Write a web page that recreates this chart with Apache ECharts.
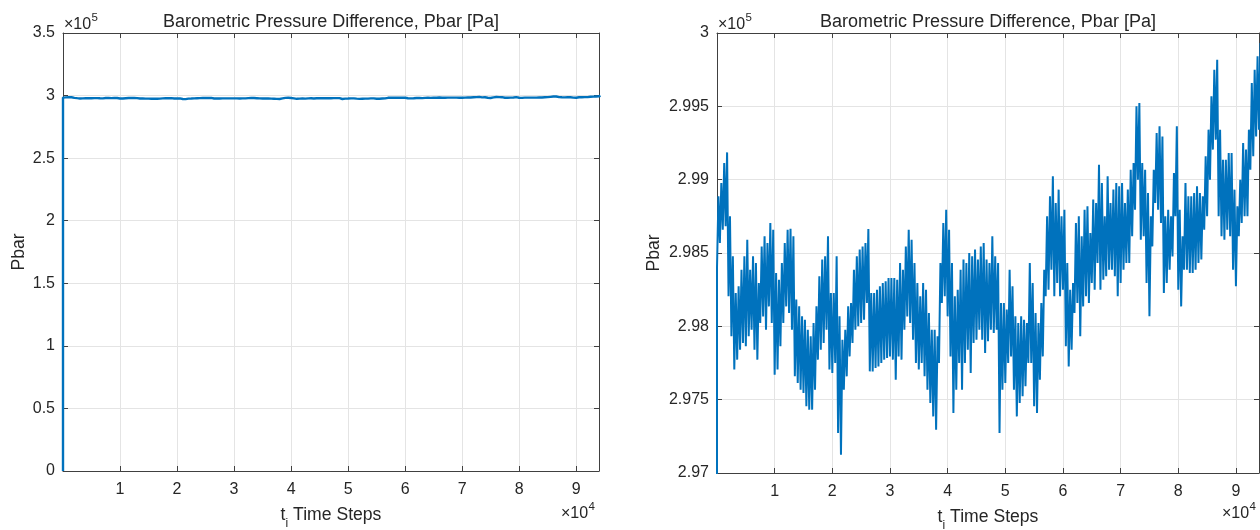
<!DOCTYPE html>
<html>
<head>
<meta charset="utf-8">
<title>Barometric Pressure Difference</title>
<script src="https://cdn.jsdelivr.net/npm/echarts@6/dist/echarts.min.js"></script>
<style>
  html, body { margin: 0; padding: 0; background: #ffffff; }
  #chart { width: 1260px; height: 530px; }
</style>
</head>
<body>
<div id="chart"></div>
<script>
// Pbar record: value at t = 0, then the upper and lower excursion of the
// signal in every block of sampleStep time steps (Pa).
const sampleStep = 500;
const startValue = 0;
const pbarHigh = [
  298886, 298977, 299114, 299186, 298750, 298477, 298227, 298273, 298386, 298477,
  298591, 298386, 298477, 298432, 298295, 298545, 298614, 298568, 298705, 298659,
  298364, 298318, 298432, 298568, 298659, 298666, 298614, 298182, 298136, 298068,
  298045, 297977, 297932, 298023, 298136, 298341, 298455, 298477, 298614, 298227,
  298227, 298477, 298068, 297909, 297977, 298136, 298159, 298386, 298477, 298523,
  298545, 298568, 298664, 298227, 298227, 298250, 298273, 298295, 298307, 298330,
  298330, 298330, 298318, 298432, 298386, 298545, 298659, 298591, 298432, 298295,
  298205, 298295, 298250, 298091, 297977, 297977, 297932, 298432, 298705, 298795,
  298659, 298432, 298205, 298250, 298386, 298455, 298432, 298500, 298477, 298523,
  298455, 298545, 298568, 298455, 298432, 298614, 298477, 298432, 298159, 298159,
  298114, 298386, 298273, 298068, 298023, 298068, 298045, 298023, 298432, 298295,
  298091, 298023, 298159, 298386, 298750, 298886, 299023, 298841, 298932, 298750,
  298795, 298432, 298250, 298295, 298705, 298750, 298614, 298795, 298818, 298636,
  298864, 298841, 299102, 298977, 298750, 299023, 298841, 298932, 298977, 298955,
  298977, 298841, 298932, 299068, 299114, 299500, 299523, 299114, 299068, 298909,
  298750, 299068, 299318, 299364, 299295, 298750, 298795, 298750, 299045, 299364,
  298795, 298614, 298977, 298886, 298886, 298909, 298955, 298909, 298886, 299159,
  299341, 299568, 299750, 299818, 299341, 299136, 299136, 299182, 299182, 298932,
  298818, 299000, 299250, 299205, 299341, 299659, 299750, 299841, 299932
];
const pbarLow = [
  298398, 298568, 298659, 298682, 298205, 297932, 297705, 297773, 297841, 297886,
  297864, 297932, 297977, 297841, 297773, 298023, 298068, 297977, 298136, 298023,
  297670, 297705, 297864, 298023, 298136, 298091, 297977, 297659, 297614, 297568,
  297545, 297455, 297432, 297432, 297568, 297773, 297841, 297886, 297977, 297705,
  297682, 297750, 297273, 297125, 297568, 297659, 297795, 297886, 297977, 298000,
  298023, 298045, 298159, 297693, 297693, 297716, 297727, 297750, 297773, 297784,
  297795, 297773, 297636, 297795, 297773, 297977, 298068, 298023, 297909, 297750,
  297705, 297750, 297659, 297568, 297477, 297386, 297295, 297750, 298159, 298205,
  298068, 297795, 297409, 297568, 297750, 297568, 297750, 297841, 297682, 297886,
  297909, 297977, 297909, 297818, 297898, 297977, 297955, 297977, 297273, 297568,
  297614, 297750, 297795, 297568, 297386, 297477, 297523, 297591, 297750, 297750,
  297455, 297409, 297636, 297795, 298205, 298250, 298386, 298205, 298295, 298205,
  298250, 297864, 297727, 297841, 298091, 298159, 297932, 298136, 298205, 298159,
  298295, 298250, 298432, 298250, 298318, 298341, 298386, 298386, 298341, 298205,
  298295, 298386, 298432, 298432, 298614, 298795, 299000, 298591, 298614, 298295,
  298068, 298545, 298841, 298795, 298705, 298227, 298295, 298386, 298477, 298750,
  298250, 298136, 298386, 298386, 298364, 298364, 298386, 298432, 298455, 298659,
  298750, 299000, 299205, 299273, 298750, 298614, 298591, 298659, 298614, 298386,
  298273, 298614, 298705, 298750, 298750, 299068, 299159, 299295, 299341
];

const xTicks = { min: 0, max: 94000, interval: 10000 };
const yFull = { min: 0, max: 350000, interval: 50000 };
const yZoom = { min: 297000, max: 300000, interval: 500 };

// Each block is drawn as a low then a high excursion, so the trace keeps its
// dense oscillating look.
const points = [[0, startValue]];
for (let i = 0; i < pbarHigh.length; i++) {
  points.push([i * sampleStep, pbarLow[i]]);
  points.push([i * sampleStep + sampleStep / 2, pbarHigh[i]]);
}

const FONT = '"Liberation Sans", Arial, Helvetica, sans-serif';
const AXIS_COLOR = '#404040';
const TEXT_COLOR = '#262626';
const GRID_COLOR = '#e4e4e4';
const LINE_COLOR = '#0072BD';

// fixed plot boxes; axis texts may sit outside them
const grids = [
  { left: 63, top: 33, width: 536, height: 438, outerBoundsMode: 'none', containLabel: false },
  { left: 717, top: 33, width: 542, height: 440, outerBoundsMode: 'none', containLabel: false }
];

function xLabel(v) {
  return (v > 0 && v % 10000 === 0) ? String(v / 10000) : '';
}

function bottomAxis(gridIndex) {
  return {
    type: 'value', gridIndex, position: 'bottom',
    min: xTicks.min, max: xTicks.max, interval: xTicks.interval,
    axisLine: { show: true, onZero: false, lineStyle: { color: AXIS_COLOR, width: 1 } },
    axisTick: { show: true, inside: true, length: 5, lineStyle: { color: AXIS_COLOR } },
    axisLabel: { formatter: xLabel, margin: 11, color: TEXT_COLOR, fontSize: 16, fontFamily: FONT, showMaxLabel: false },
    splitLine: { show: true, lineStyle: { color: GRID_COLOR, width: 1 } },
    name: '{t|t}{s|i}{n| Time Steps}',
    nameLocation: 'middle', nameGap: 35,
    nameTextStyle: {
      color: TEXT_COLOR, fontFamily: FONT,
      rich: {
        t: { fontSize: 17.6, fontFamily: FONT, color: TEXT_COLOR, lineHeight: 20, verticalAlign: 'top' },
        s: { fontSize: 12, fontFamily: FONT, color: TEXT_COLOR, lineHeight: 24, verticalAlign: 'bottom' },
        n: { fontSize: 17.6, fontFamily: FONT, color: TEXT_COLOR, lineHeight: 20, verticalAlign: 'top' }
      }
    }
  };
}

function topAxis(gridIndex) {
  return {
    type: 'value', gridIndex, position: 'top',
    min: xTicks.min, max: xTicks.max, interval: xTicks.interval,
    axisLine: { show: true, onZero: false, lineStyle: { color: AXIS_COLOR, width: 1 } },
    axisTick: { show: true, inside: true, length: 5, lineStyle: { color: AXIS_COLOR } },
    axisLabel: { show: false },
    splitLine: { show: false }
  };
}

function leftAxis(gridIndex, range, digits, gap) {
  return {
    type: 'value', gridIndex, position: 'left',
    min: range.min, max: range.max, interval: range.interval,
    axisLine: { show: true, onZero: false, lineStyle: { color: AXIS_COLOR, width: 1 } },
    axisTick: { show: true, inside: true, length: 5, lineStyle: { color: AXIS_COLOR } },
    axisLabel: {
      formatter: v => String(+(v / 1e5).toFixed(digits)),
      margin: 8, color: TEXT_COLOR, fontSize: 16, fontFamily: FONT
    },
    splitLine: { show: true, lineStyle: { color: GRID_COLOR, width: 1 } },
    name: 'Pbar', nameLocation: 'middle', nameGap: gap, nameRotate: 90,
    nameTextStyle: { color: TEXT_COLOR, fontSize: 17.6, fontFamily: FONT }
  };
}

function rightAxis(gridIndex, range) {
  return {
    type: 'value', gridIndex, position: 'right',
    min: range.min, max: range.max, interval: range.interval,
    axisLine: { show: true, onZero: false, lineStyle: { color: AXIS_COLOR, width: 1 } },
    axisTick: { show: true, inside: true, length: 5, lineStyle: { color: AXIS_COLOR } },
    axisLabel: { show: false },
    splitLine: { show: false }
  };
}

function textItem(x, y, text, size) {
  return {
    type: 'text', x, y, silent: true,
    style: {
      text, fill: TEXT_COLOR, fontSize: size, fontFamily: FONT,
      align: 'left', verticalAlign: 'top'
    }
  };
}

function centeredText(x, y, text, size) {
  const item = textItem(x, y, text, size);
  item.style.align = 'center';
  return item;
}

// "×10" with a raised exponent, placed by its top-left corner
function exponent(x, y, power) {
  return [
    textItem(x, y, '\u00d710', 16),
    textItem(x + 27.5, y - 5, String(power), 11.5)
  ];
}

const TITLE = 'Barometric Pressure Difference, Pbar [Pa]';

const chart = echarts.init(document.getElementById('chart'), null, { renderer: 'canvas' });
chart.setOption({
  animation: false,
  backgroundColor: '#ffffff',
  grid: grids,
  xAxis: [bottomAxis(0), topAxis(0), bottomAxis(1), topAxis(1)],
  yAxis: [leftAxis(0, yFull, 2, 35), rightAxis(0, yFull), leftAxis(1, yZoom, 3, 54), rightAxis(1, yZoom)],
  series: [
    {
      type: 'line', xAxisIndex: 0, yAxisIndex: 0, data: points,
      showSymbol: false, symbol: 'none', clip: true,
      lineStyle: { color: LINE_COLOR, width: 2.4 }
    },
    {
      type: 'line', xAxisIndex: 2, yAxisIndex: 2, data: points,
      showSymbol: false, symbol: 'none', clip: true,
      lineStyle: { color: LINE_COLOR, width: 2, join: 'bevel' }
    }
  ],
  graphic: [
    centeredText(331, 13, TITLE, 18),
    centeredText(988, 13, TITLE, 18),
    ...exponent(64, 17, 5),
    ...exponent(718, 17, 5),
    ...exponent(561, 506, 4),
    ...exponent(1222, 506, 4)
  ]
});
</script>
</body>
</html>
